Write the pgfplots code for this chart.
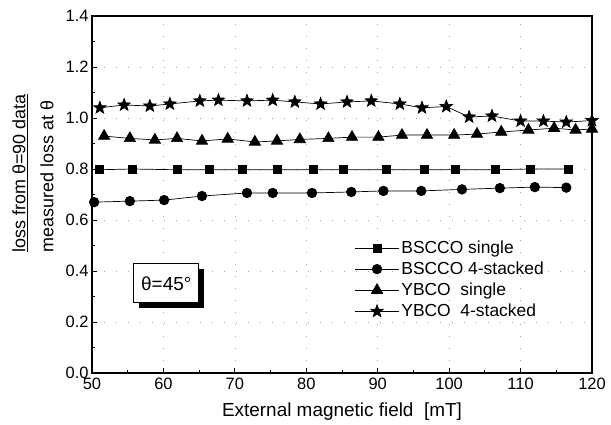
\documentclass[border=0pt]{standalone}
\usepackage{fontspec}
\setmainfont{Liberation Sans}
\usepackage{pgfplots}
\pgfplotsset{compat=1.18}

% filled five-pointed star
\pgfdeclareplotmark{fstar}{%
  \pgfpathmoveto{\pgfpointpolar{90}{\pgfplotmarksize}}%
  \pgfpathlineto{\pgfpointpolar{126}{0.42\pgfplotmarksize}}%
  \pgfpathlineto{\pgfpointpolar{162}{\pgfplotmarksize}}%
  \pgfpathlineto{\pgfpointpolar{198}{0.42\pgfplotmarksize}}%
  \pgfpathlineto{\pgfpointpolar{234}{\pgfplotmarksize}}%
  \pgfpathlineto{\pgfpointpolar{270}{0.42\pgfplotmarksize}}%
  \pgfpathlineto{\pgfpointpolar{306}{\pgfplotmarksize}}%
  \pgfpathlineto{\pgfpointpolar{342}{0.42\pgfplotmarksize}}%
  \pgfpathlineto{\pgfpointpolar{18}{\pgfplotmarksize}}%
  \pgfpathlineto{\pgfpointpolar{54}{0.42\pgfplotmarksize}}%
  \pgfpathclose\pgfusepathqfillstroke}

\begin{document}
\begin{tikzpicture}
% fix the page to the reference's 611x423 frame
\path (-92bp,-50bp) rectangle (519bp,373bp);
\begin{axis}[
  at={(0,0)}, anchor=south west,
  scale only axis, width=500bp, height=357bp,
  xmin=50, xmax=120, ymin=0, ymax=1.4,
  xtick={50,60,...,120}, ytick={0,0.2,...,1.4},
  minor tick num=1,
  tick align=inside, xtick pos=lower, ytick pos=left,
  major tick length=5bp, minor tick length=3bp,
  axis line style={line width=1.1bp},
  every tick/.style={black, line width=0.9bp},
  grid=major, grid style={gray!70, line width=0.7bp, dash pattern=on 1bp off 11bp},
  /pgf/number format/assume math mode=true,
  yticklabel style={/pgf/number format/.cd, fixed, fixed zerofill, precision=1},
  ticklabel style={font=\fontsize{16.5}{18}\selectfont},
  xticklabel style={yshift=-2bp},
  xlabel={External magnetic field\ \ [mT]},
  xlabel style={font=\fontsize{19}{22}\selectfont, at={(axis description cs:0.5,0)}, anchor=center, yshift=-39bp},
  ylabel={\underline{loss from θ=90 data}\\measured loss at θ},
  ylabel style={font=\fontsize{18}{28}\selectfont, align=left, at={(axis description cs:-0.118,0.559)}, anchor=center},
  legend style={draw=none, fill=none, at={(0.525,0.376)}, anchor=north west,
    font=\fontsize{17.5}{20}\selectfont, row sep=3bp, inner sep=0pt},
  legend cell align=left,
  legend image code/.code={\draw[mark repeat=2,mark phase=2,#1] plot coordinates {(0bp,0bp)(22bp,0bp)(44bp,0bp)};},
  every axis plot/.append style={black, line width=0.7bp},
]
\addplot[mark=square*, mark size=4bp] coordinates {
(51,0.797)(55.6,0.800)(61.9,0.797)(66.4,0.797)(71,0.797)(76,0.797)(81,0.797)
(85.2,0.797)(91.2,0.797)(96.5,0.797)(100.8,0.797)(106.4,0.797)(111.3,0.800)(116.7,0.800)};
\addlegendentry{BSCCO single}
\addplot[mark=*, mark size=4.8bp] coordinates {
(50.3,0.670)(55.3,0.674)(60.1,0.678)(65.4,0.694)(71.7,0.706)(75.3,0.706)(80.8,0.706)
(86.3,0.710)(90.8,0.714)(96.1,0.714)(101.8,0.720)(107.1,0.725)(112.0,0.729)(116.4,0.727)};
\addlegendentry{BSCCO 4-stacked}
\addplot[mark=triangle*, mark size=6.5bp] coordinates {
(51.7,0.929)(55.3,0.920)(58.8,0.914)(61.9,0.920)(65.4,0.910)(69.0,0.918)(72.8,0.906)
(75.9,0.910)(79.1,0.916)(83.1,0.920)(86.4,0.925)(90.1,0.925)(93.4,0.933)(96.9,0.933)
(100.7,0.933)(103.9,0.937)(107.3,0.945)(111.1,0.953)(114.7,0.960)(117.7,0.953)(120,0.957)};
\addlegendentry{YBCO\ \ single}
\addplot[mark=fstar, mark size=6.5bp, mark options={fill=black}] coordinates {
(51.1,1.040)(54.5,1.051)(58.1,1.047)(60.9,1.055)(65.1,1.067)(67.7,1.070)(71.7,1.067)
(75.3,1.070)(78.4,1.063)(82.0,1.055)(85.7,1.063)(89.1,1.067)(93.1,1.055)(96.2,1.040)
(99.6,1.045)(102.8,1.004)(106.0,1.008)(110.0,0.988)(113.2,0.988)(116.4,0.984)(120,0.990)};
\addlegendentry{YBCO\ \ 4-stacked}
% label box with its solid shadow
\fill[black] ([xshift=-27.5bp,yshift=-24.5bp]axis cs:60.4,0.351) rectangle ([xshift=37.5bp,yshift=14.5bp]axis cs:60.4,0.351);
\node[draw, line width=1bp, fill=white, minimum width=65bp, minimum height=39bp,
  font=\fontsize{19}{22}\selectfont] at (axis cs:60.4,0.351) {θ=45°};
\end{axis}
\end{tikzpicture}
\end{document}
